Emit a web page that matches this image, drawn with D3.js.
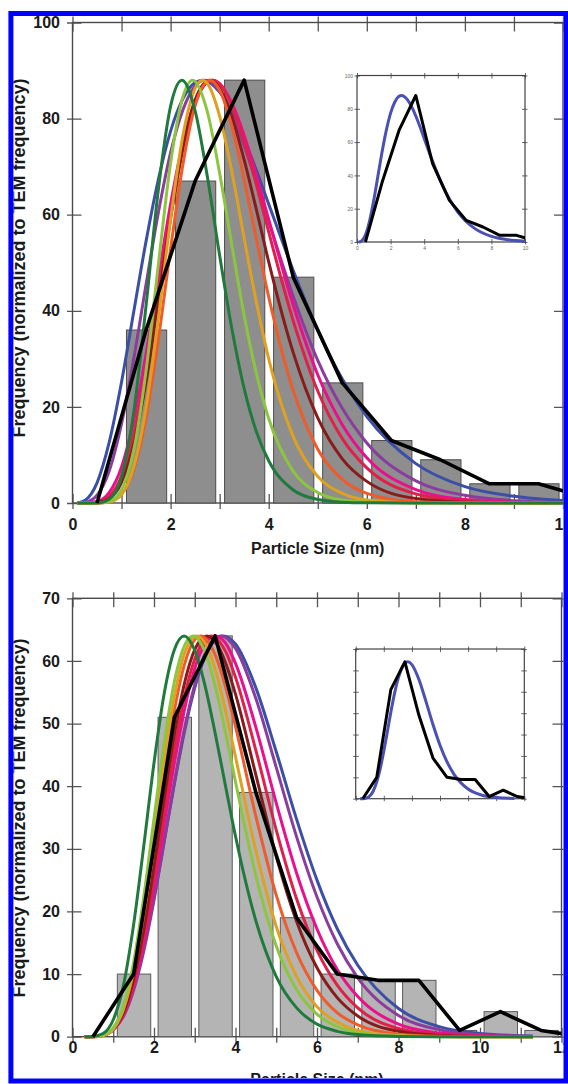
<!DOCTYPE html>
<html>
<head>
<meta charset="utf-8">
<script src="https://cdn.jsdelivr.net/npm/d3@7"></script>
<style>
  body { margin: 0; background: #fff; }
  svg { display: block; }
</style>
</head>
<body>
<svg id="chart" width="568" height="1084"></svg>
<script>
// ---- top sample: TEM histogram (bins start at n nm) ----
var topBins = [1, 2, 3, 4, 5, 6, 7, 8, 9];
var topCounts = [36, 67, 88, 47, 25, 13, 9, 4, 4];
// TEM frequency polygon (bin centres)
var topTemX = [0.5, 1.5, 2.5, 3.5, 4.5, 5.5, 6.5, 7.5, 8.5, 9.5, 10.5];
var topTemY = [0, 36, 67, 88, 47, 25, 13, 9, 4, 4, 1];

// SAXS size distributions, top sample, [size, freq]
var topBlue = [[0.1,0],[0.25,0.5],[0.5,4.2],[0.75,12.7],[1,25.2],[1.25,39.9],[1.5,54.5],[1.75,67.3],[2,77.4],[2.25,84.1],[2.5,87.5],[2.65,88],[3,85.5],[3.25,81.3],[3.5,75.7],[3.75,69.2],[4,62.2],[4.5,48.4],[5,36],[5.5,25.8],[6,18],[7,8.2],[8,3.4],[9,1.4],[10,0.52]];
var topPurple = [[0.1,0],[0.25,0.1],[0.5,1.6],[0.75,6.7],[1,16.5],[1.25,30.1],[1.5,45.5],[1.75,60.4],[2,72.9],[2.25,81.8],[2.5,86.8],[2.7,88],[3,85.7],[3.25,80.9],[3.5,74.3],[3.75,66.7],[4,58.6],[4.5,43],[5,29.7],[5.5,19.7],[6,12.5],[7,4.6],[8,1.6],[9,0.49],[10,0.14]];
var topPink = [[0.1,0],[0.25,0],[0.5,0.3],[0.75,2.2],[1,7.5],[1.25,17.3],[1.5,31],[1.75,46.8],[2,62.2],[2.25,74.9],[2.5,83.6],[2.85,88],[3,87.3],[3.25,83.2],[3.5,76.5],[3.75,68.1],[4,59],[4.5,41.2],[5,26.7],[5.5,16.3],[6,9.4],[7,2.8],[8,0.72],[9,0.17],[10,0.04]];
var topCrimson = [[0.1,0],[0.25,0],[0.5,0.16],[0.75,1.4],[1,5.6],[1.25,14.4],[1.5,27.6],[1.75,43.6],[2,59.8],[2.25,73.6],[2.5,83.2],[2.85,88],[3,87.2],[3.25,82.7],[3.5,75.3],[3.75,66.2],[4,56.4],[4.5,37.9],[5,23.3],[5.5,13.4],[6,7.3],[7,1.9],[8,0.42],[9,0.08],[10,0.01]];
var topDarkRed = [[0.1,0],[0.25,0],[0.5,0.08],[0.75,0.9],[1,4.3],[1.25,12.2],[1.5,25.3],[1.75,41.9],[2,59.2],[2.25,73.9],[2.5,83.9],[2.8,88],[3,86.3],[3.25,80.4],[3.5,71.4],[3.75,61],[4,50.2],[4.5,31.3],[5,17.7],[5.5,9.2],[6,4.5],[7,0.93],[8,0.16],[9,0.02],[10,0]];
var topOrange = [[0.1,0],[0.25,0],[0.5,0],[0.75,0.25],[1,1.8],[1.25,7],[1.5,17.8],[1.75,34],[2,52.9],[2.25,70.4],[2.5,82.7],[2.8,88],[3,85.9],[3.25,78.4],[3.5,67.3],[3.75,54.9],[4,42.9],[4.5,23.4],[5,11.2],[5.5,4.9],[6,2],[7,0.26],[8,0.03],[9,0],[10,0]];
var topGold = [[0.1,0],[0.25,0],[0.5,0],[0.75,0.2],[1,1.8],[1.25,7.6],[1.5,19.9],[1.75,38.4],[2,59.1],[2.25,76.4],[2.5,86.3],[2.65,88],[2.75,87.3],[3,80.5],[3.25,68.9],[3.5,55.1],[3.75,41.7],[4,30],[4.5,13.8],[5,5.5],[5.5,2],[6,0.64],[7,0.06],[8,0],[9,0],[10,0]];
var topLime = [[0.1,0],[0.25,0],[0.5,0],[0.75,0.35],[1,2.8],[1.25,11.1],[1.5,27.5],[1.75,49.6],[2,70.8],[2.25,84.5],[2.45,88],[2.75,81.4],[3,68.6],[3.25,53.6],[3.5,39],[3.75,26.9],[4,17.6],[4.5,6.6],[5,2.2],[5.5,0.63],[6,0.17],[7,0],[8,0],[9,0],[10,0]];
var topDarkGreen = [[0.1,0],[0.25,0],[0.5,0],[0.75,0.8],[1,5.6],[1.25,19],[1.5,41.1],[1.75,65.2],[2,82.6],[2.23,88],[2.5,81.6],[2.75,67.9],[3,51.5],[3.25,36.2],[3.5,23.8],[3.75,14.8],[4,8.8],[4.5,2.7],[5,0.74],[5.5,0.18],[6,0.04],[7,0],[8,0],[9,0],[10,0]];

// ---- bottom sample ----
var botBins = [1, 2, 3, 4, 5, 6, 7, 8, 9, 10, 11];
var botCounts = [10, 51, 64, 39, 19, 10, 9, 9, 1, 4, 1];
var botTemX = [0.5, 1.5, 2.5, 3.5, 4.5, 5.5, 6.5, 7.5, 8.5, 9.5, 10.5, 11.5, 12.5];
var botTemY = [0, 10, 51, 64, 39, 19, 10, 9, 9, 1, 4, 1, 0];

var botBlue = [[0.3,0],[0.5,0.03],[0.75,0.28],[1,1.25],[1.25,3.6],[1.5,7.9],[1.75,14.2],[2,22.2],[2.25,31.2],[2.5,40.4],[2.75,48.8],[3,55.7],[3.25,60.6],[3.7,64],[4,62.7],[4.5,55.7],[5,45.5],[5.5,34.7],[6,25],[6.5,17.2],[7,11.4],[8,4.5],[9,1.6],[10,0.52],[11.3,0.1]];
var botPurple = [[0.3,0],[0.5,0],[0.75,0.22],[1,1.1],[1.25,3.2],[1.5,7.4],[1.75,13.7],[2,21.8],[2.25,31.1],[2.5,40.6],[2.75,49.2],[3,56.2],[3.25,61.1],[3.65,64],[4,62],[4.5,54],[5,43],[5.5,31.9],[6,22.3],[6.5,14.8],[7,9.4],[8,3.4],[9,1.1],[10,0.33],[11.3,0.05]];
var botPink = [[0.3,0],[0.5,0],[0.75,0.22],[1,1.1],[1.25,3.5],[1.5,8.1],[1.75,15],[2,23.9],[2.25,33.9],[2.5,43.7],[2.75,52.3],[3,58.8],[3.25,62.7],[3.5,64],[3.75,62.9],[4,59.6],[4.5,49.4],[5,37.3],[5.5,26.1],[6,17.2],[6.5,10.7],[7,6.4],[8,2],[9,0.58],[10,0.15],[11.3,0.02]];
var botCrimson = [[0.3,0],[0.5,0],[0.75,0.2],[1,1.1],[1.25,3.6],[1.5,8.5],[1.75,15.9],[2,25.3],[2.25,35.7],[2.5,45.8],[2.75,54.3],[3,60.3],[3.4,64],[3.75,61.6],[4,57.4],[4.5,45.7],[5,33],[5.5,22],[6,13.8],[6.5,8.2],[7,4.6],[8,1.3],[9,0.33],[10,0.08],[11.3,0]];
var botDarkRed = [[0.3,0],[0.5,0],[0.75,0.22],[1,1.2],[1.25,3.9],[1.5,9.2],[1.75,17.1],[2,27.2],[2.25,38.1],[2.5,48.3],[2.75,56.5],[3,61.8],[3.3,64],[3.5,63.1],[3.75,59.8],[4,54.7],[4.5,41.8],[5,28.8],[5.5,18.4],[6,11],[6.5,6.2],[7,3.3],[8,0.86],[9,0.2],[10,0.04],[11.3,0]];
var botOrange = [[0.3,0],[0.5,0],[0.75,0.24],[1,1.35],[1.25,4.5],[1.5,10.5],[1.75,19.5],[2,30.5],[2.25,42],[2.5,52.1],[2.75,59.5],[3,63.4],[3.15,64],[3.5,61],[3.75,56],[4,49.5],[4.5,35.2],[5,22.6],[5.5,13.4],[6,7.4],[6.5,3.8],[7,1.9],[8,0.41],[9,0.08],[10,0],[11.3,0]];
var botGold = [[0.3,0],[0.5,0],[0.75,0.2],[1,1.2],[1.25,4.4],[1.5,10.7],[1.75,20.2],[2,32.1],[2.25,44.1],[2.5,54.3],[2.75,61.2],[3.05,64],[3.25,62.9],[3.5,58.7],[3.75,52.2],[4,44.7],[4.5,29.7],[5,17.6],[5.5,9.6],[6,4.8],[6.5,2.3],[7,1],[8,0.18],[9,0.02],[10,0],[11.3,0]];
var botLime = [[0.3,0],[0.5,0],[0.75,0.23],[1,1.4],[1.25,4.9],[1.5,11.9],[1.75,22.4],[2,34.8],[2.25,46.9],[2.5,56.7],[2.75,62.5],[2.96,64],[3.25,61.5],[3.5,56],[3.75,48.7],[4,40.7],[4.5,25.7],[5,14.5],[5.5,7.5],[6,3.6],[6.5,1.6],[7,0.68],[8,0.11],[9,0],[10,0],[11.3,0]];
var botDarkGreen = [[0.3,0],[0.5,0.04],[0.75,0.5],[1,2.7],[1.25,8.2],[1.5,17.9],[1.75,30.5],[2,43.7],[2.25,54.8],[2.5,61.8],[2.74,64],[3,61.7],[3.25,56.1],[3.5,48.5],[3.75,40.2],[4,32],[4.5,18.5],[5,9.6],[5.5,4.6],[6,2],[6.5,0.85],[7,0.34],[8,0.05],[9,0],[10,0],[11.3,0]];

// drawn back to front
var fitColors = ["#3c4fa6", "#8b3d9e", "#ec0e8c", "#e21f4a", "#8b1a1a", "#f15a29", "#e0a020", "#8cc63e", "#1f7a3c"];
var topFits = [topBlue, topPurple, topPink, topCrimson, topDarkRed, topOrange, topGold, topLime, topDarkGreen];
var botFits = [botBlue, botPurple, botPink, botCrimson, botDarkRed, botOrange, botGold, botLime, botDarkGreen];

var yTitle = "Frequency (normalized to TEM frequency)";
var xTitle = "Particle Size (nm)";
var FONT = "'Liberation Sans', Arial, Helvetica, sans-serif";

var svg = d3.select("#chart");
var defs = svg.append("defs");

defs.append("clipPath").attr("id", "frame-clip")
    .append("rect").attr("x", 13.4).attr("y", 16).attr("width", 550.1).attr("height", 1062);

var root = svg.append("g").attr("clip-path", "url(#frame-clip)");

function styleAxis(a, size) {
    a.select(".domain").remove();
    a.attr("font-family", FONT).attr("font-size", size).attr("font-weight", "bold");
    a.selectAll(".tick line").attr("stroke", "#555").attr("stroke-width", 1.3);
    a.selectAll(".tick text").attr("fill", "#1a1a1a");
    return a;
}

function drawPanel(p) {
    var x = d3.scaleLinear().domain([0, p.xMax]).range([p.left, p.right]);
    var y = d3.scaleLinear().domain([0, p.yMax]).range([p.bottom, p.top]);
    var xt = d3.range(0, p.xMax + 1);
    var yt = d3.range(0, p.yMax + 1, p.yStep);
    var g = root.append("g");

    // ticks cross the frame: inner part and outer part
    styleAxis(g.append("g").attr("transform", "translate(0," + p.bottom + ")")
        .call(d3.axisBottom(x).tickValues(xt).tickSizeInner(-9).tickSizeOuter(0).tickFormat("")), 16);
    var xb = styleAxis(g.append("g").attr("transform", "translate(0," + p.bottom + ")")
        .call(d3.axisBottom(x).tickValues(xt).tickSizeInner(6).tickSizeOuter(0)
            .tickFormat(function(d) { return d % 2 ? "" : d; })), 16);
    xb.selectAll(".tick text").attr("y", p.xLabelY).attr("dy", "0.71em");

    styleAxis(g.append("g").attr("transform", "translate(0," + p.top + ")")
        .call(d3.axisTop(x).tickValues(xt).tickSizeInner(-9).tickSizeOuter(0).tickFormat("")), 16);
    styleAxis(g.append("g").attr("transform", "translate(0," + p.top + ")")
        .call(d3.axisTop(x).tickValues(xt).tickSizeInner(6).tickSizeOuter(0).tickFormat("")), 16);

    styleAxis(g.append("g").attr("transform", "translate(" + p.left + ",0)")
        .call(d3.axisLeft(y).tickValues(yt).tickSizeInner(-9).tickSizeOuter(0).tickFormat("")), 16);
    styleAxis(g.append("g").attr("transform", "translate(" + p.left + ",0)")
        .call(d3.axisLeft(y).tickValues(yt).tickSizeInner(5.5).tickSizeOuter(0).tickPadding(7)), 16);

    styleAxis(g.append("g").attr("transform", "translate(" + p.right + ",0)")
        .call(d3.axisRight(y).tickValues(yt).tickSizeInner(-9).tickSizeOuter(0).tickFormat("")), 16);
    styleAxis(g.append("g").attr("transform", "translate(" + p.right + ",0)")
        .call(d3.axisRight(y).tickValues(yt).tickSizeInner(6).tickSizeOuter(0).tickFormat("")), 16);

    g.append("rect")
        .attr("x", p.left).attr("y", p.top)
        .attr("width", p.right - p.left).attr("height", p.bottom - p.top)
        .attr("fill", "none").attr("stroke", "#4a4a4a").attr("stroke-width", 1.4);

    defs.append("clipPath").attr("id", p.id + "-clip")
        .append("rect").attr("x", p.left).attr("y", p.top - 4)
        .attr("width", p.right - p.left).attr("height", p.bottom - p.top + 8);
    var plot = g.append("g").attr("clip-path", "url(#" + p.id + "-clip)");

    //histogram
    plot.selectAll(".bar")
        .data(p.bins)
        .enter().append("rect")
        .attr("class", "bar")
        .attr("x", function(d) { return x(d + 0.1); })
        .attr("width", function(d) { return x(d + 0.92) - x(d + 0.1); })
        .attr("y", function(d, i) { return y(p.counts[i]); })
        .attr("height", function(d, i) { return y(0) - y(p.counts[i]); })
        .attr("fill", p.barFill)
        .attr("stroke", p.barStroke)
        .attr("stroke-width", 1);

    var fitLine = d3.line()
        .x(function(d) { return x(d[0]); })
        .y(function(d) { return y(d[1]); })
        .curve(d3.curveMonotoneX);

    plot.selectAll(".fit")
        .data(p.fits)
        .enter().append("path")
        .attr("class", "fit")
        .attr("d", fitLine)
        .attr("fill", "none")
        .attr("stroke", function(d, i) { return fitColors[i]; })
        .attr("stroke-width", 3);

    var tem = d3.line()
        .x(function(d) { return x(d); })
        .y(function(d, i) { return y(p.temY[i]); });

    plot.append("path")
        .attr("d", tem(p.temX))
        .attr("fill", "none")
        .attr("stroke", "#000")
        .attr("stroke-width", 3.6)
        .attr("stroke-linejoin", "round");

    // axis titles
    g.append("text")
        .attr("transform", "translate(25," + p.yTitleY + ") rotate(-90)")
        .attr("text-anchor", "middle")
        .attr("font-family", FONT).attr("font-weight", "bold").attr("font-size", 18)
        .attr("fill", "#1a1a1a")
        .text(yTitle);

    g.append("text")
        .attr("x", (p.left + p.right) / 2)
        .attr("y", p.xTitleY)
        .attr("text-anchor", "middle")
        .attr("font-family", FONT).attr("font-weight", "bold").attr("font-size", 16)
        .attr("fill", "#1a1a1a")
        .text(xTitle);

    return g;
}

function drawInset(p) {
    var x = d3.scaleLinear().domain([0, p.xMax]).range([p.left, p.right]);
    var y = d3.scaleLinear().domain([0, p.yMax]).range([p.bottom, p.top]);
    var xt = d3.range(0, p.xMax + 1, 2);
    var yt = d3.range(0, p.yMax + 1, p.yStep);
    var g = root.append("g");

    g.append("rect")
        .attr("x", p.left).attr("y", p.top)
        .attr("width", p.right - p.left).attr("height", p.bottom - p.top)
        .attr("fill", "#fff");

    function small(a) {
        a.select(".domain").remove();
        a.attr("font-family", FONT).attr("font-size", 5).attr("font-weight", "normal");
        a.selectAll(".tick line").attr("stroke", "#555").attr("stroke-width", 0.9);
        a.selectAll(".tick text").attr("fill", "#666");
        return a;
    }
    var fmt = p.labels ? null : "";
    small(g.append("g").attr("transform", "translate(0," + p.bottom + ")")
        .call(d3.axisBottom(x).tickValues(xt).tickSizeInner(-3).tickSizeOuter(0).tickFormat("")));
    small(g.append("g").attr("transform", "translate(0," + p.bottom + ")")
        .call(d3.axisBottom(x).tickValues(xt).tickSizeInner(2.5).tickSizeOuter(0).tickPadding(2).tickFormat(fmt)));
    small(g.append("g").attr("transform", "translate(0," + p.top + ")")
        .call(d3.axisTop(x).tickValues(xt).tickSize(-3).tickSizeOuter(0).tickFormat("")));
    small(g.append("g").attr("transform", "translate(0," + p.top + ")")
        .call(d3.axisTop(x).tickValues(xt).tickSize(2.5).tickSizeOuter(0).tickFormat("")));
    small(g.append("g").attr("transform", "translate(" + p.left + ",0)")
        .call(d3.axisLeft(y).tickValues(yt).tickSizeInner(-3).tickSizeOuter(0).tickFormat("")));
    small(g.append("g").attr("transform", "translate(" + p.left + ",0)")
        .call(d3.axisLeft(y).tickValues(yt).tickSizeInner(2.5).tickSizeOuter(0).tickPadding(1.5).tickFormat(fmt)));
    small(g.append("g").attr("transform", "translate(" + p.right + ",0)")
        .call(d3.axisRight(y).tickValues(yt).tickSizeInner(-3).tickSizeOuter(0).tickFormat("")));
    small(g.append("g").attr("transform", "translate(" + p.right + ",0)")
        .call(d3.axisRight(y).tickValues(yt).tickSizeInner(2.5).tickSizeOuter(0).tickFormat("")));

    g.append("rect")
        .attr("x", p.left).attr("y", p.top)
        .attr("width", p.right - p.left).attr("height", p.bottom - p.top)
        .attr("fill", "none").attr("stroke", "#444").attr("stroke-width", 1.2);

    var fitLine = d3.line()
        .x(function(d) { return x(d[0]); })
        .y(function(d) { return y(d[1]); })
        .curve(d3.curveMonotoneX);

    g.append("path")
        .attr("d", fitLine(p.fit))
        .attr("fill", "none").attr("stroke", "#4b50b4").attr("stroke-width", 3);

    var tem = d3.line()
        .x(function(d) { return x(d); })
        .y(function(d, i) { return y(p.temY[i]); });

    defs.append("clipPath").attr("id", p.id + "-clip")
        .append("rect").attr("x", p.left).attr("y", p.top)
        .attr("width", p.right - p.left).attr("height", p.bottom - p.top + 3);

    g.append("path")
        .attr("clip-path", "url(#" + p.id + "-clip)")
        .attr("d", tem(p.temX))
        .attr("fill", "none").attr("stroke", "#000").attr("stroke-width", 3)
        .attr("stroke-linejoin", "round");
}

drawPanel({
    id: "top", left: 72.5, right: 563, top: 22.5, bottom: 503,
    xMax: 10, yMax: 100, yStep: 20, xLabelY: 15.5,
    bins: topBins, counts: topCounts, temX: topTemX, temY: topTemY, fits: topFits,
    barFill: "#8e8e8e", barStroke: "#4d4d4d",
    yTitleY: 258, xTitleY: 553.5
});

drawPanel({
    id: "bot", left: 72.5, right: 561.5, top: 598.3, bottom: 1036.7,
    xMax: 12, yMax: 70, yStep: 10, xLabelY: 4.8,
    bins: botBins, counts: botCounts, temX: botTemX, temY: botTemY, fits: botFits,
    barFill: "#b4b4b4", barStroke: "#5a5a5a",
    yTitleY: 818, xTitleY: 1084.5
});

drawInset({
    id: "topInset", left: 357, right: 525, top: 75.5, bottom: 242,
    xMax: 10, yMax: 100, yStep: 20, labels: true,
    fit: topBlue, temX: topTemX, temY: topTemY
});

drawInset({
    id: "botInset", left: 355.7, right: 524.3, top: 649, bottom: 798.7,
    xMax: 12, yMax: 70, yStep: 10, labels: false,
    fit: botBlue, temX: botTemX, temY: botTemY
});

// blue frame round the whole figure
svg.append("rect")
    .attr("x", 10.9).attr("y", 13.5)
    .attr("width", 555.1).attr("height", 1067.5)
    .attr("fill", "none")
    .attr("stroke", "#0000ff")
    .attr("stroke-width", 5);
</script>
</body>
</html>
